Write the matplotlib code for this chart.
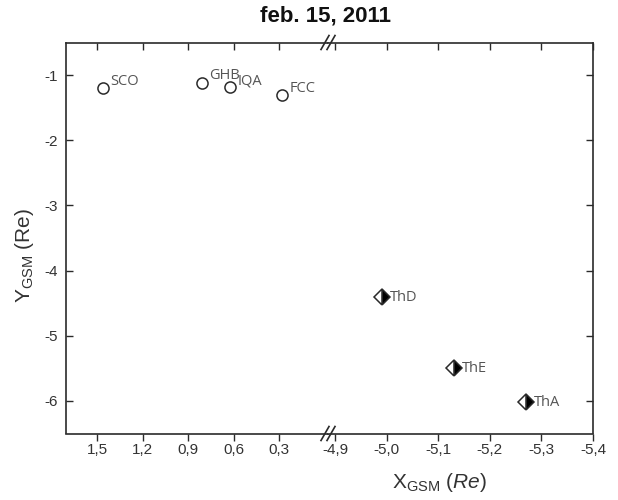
import matplotlib
matplotlib.use("Agg")
import matplotlib.pyplot as plt

plt.rcParams["font.family"] = ["Liberation Sans", "DejaVu Sans"]
plt.rcParams["mathtext.fontset"] = "custom"
plt.rcParams["mathtext.rm"] = "Liberation Sans"
plt.rcParams["mathtext.it"] = "Liberation Sans:italic"

# ground stations (circles)
ground_names = ["SCO", "GHB", "IQA", "FCC"]
ground_x = [1.46, 0.81, 0.625, 0.28]
ground_y = [-1.20, -1.12, -1.19, -1.31]

# THEMIS probes (half filled diamonds)
themis_names = ["ThD", "ThE", "ThA"]
themis_x = [-4.99, -5.13, -5.27]
themis_y = [-4.41, -5.50, -6.02]

left_ticks = [1.5, 1.2, 0.9, 0.6, 0.3]
left_labels = ["1,5", "1,2", "0,9", "0,6", "0,3"]
right_ticks = [-4.9, -5.0, -5.1, -5.2, -5.3, -5.4]
right_labels = ["-4,9", "-5,0", "-5,1", "-5,2", "-5,3", "-5,4"]
y_ticks = [-1, -2, -3, -4, -5, -6]

W, H = 618, 500
fig = plt.figure(figsize=(W / 100, H / 100), dpi=100)
bottom = (H - 433.5) / H
height = 391 / H
brk = 328
ax1 = fig.add_axes([66 / W, bottom, (brk - 66) / W, height])
ax2 = fig.add_axes([brk / W, bottom, (593 - brk) / W, height], sharey=ax1)

ink = "#2a2a2a"
lab = "#555555"

ax1.plot(ground_x, ground_y, "o", ms=8, mfc="white", mec=ink, mew=1.1)
for n, x, y in zip(ground_names, ground_x, ground_y):
    ax1.annotate(n, (x, y), xytext=(5.5, 5), textcoords="offset points",
                 va="center", ha="left", fontsize=10.5, color=lab,
                 family=["Open Sans", "DejaVu Sans"])

ax2.plot(themis_x, themis_y, "D", ms=8.5, fillstyle="right", mfc="black",
         mfcalt="white", mec=ink, mew=1.1)
for n, x, y in zip(themis_names, themis_x, themis_y):
    ax2.annotate(n, (x, y), xytext=(6, 0), textcoords="offset points",
                 va="center", ha="left", fontsize=10.5, color=lab,
                 family=["Open Sans", "DejaVu Sans"])

ax1.set_xlim(1.704, -0.02)
ax2.set_xlim(-4.886, -5.4)
ax1.set_ylim(-6.5, -0.5)

ax1.set_xticks(left_ticks)
ax1.set_xticklabels(left_labels)
ax2.set_xticks(right_ticks)
ax2.set_xticklabels(right_labels)
ax1.set_yticks(y_ticks)
ax1.set_yticklabels([str(v) for v in y_ticks])

for ax in (ax1, ax2):
    for s in ax.spines.values():
        s.set_linewidth(1.2)
        s.set_color(ink)
    ax.tick_params(axis="x", which="major", direction="out", length=5,
                   width=1.0, color=ink, labelsize=11, labelcolor="#333333",
                   pad=2)
    ax.tick_params(axis="x", top=True, labeltop=False)
    ax.tick_params(axis="y", direction="in", length=5, width=1.0,
                   color=ink, labelsize=11, labelcolor="#333333", pad=6)

# top ticks point inwards
for ax in (ax1, ax2):
    for t in ax.xaxis.get_major_ticks():
        t.tick2line.set_marker(3)  # TICKDOWN
ax1.spines["right"].set_visible(False)
ax2.spines["left"].set_visible(False)
ax1.tick_params(axis="y", left=True, right=False)
ax2.tick_params(axis="y", left=False, right=True, labelleft=False)

# break marks
dx, dy = 4 / (593 - brk), 7 / 391
for yy in (0, 1):
    for off in (-3, 3):
        x0 = off / (593 - brk)
        ax2.plot([x0 - dx, x0 + dx], [yy - dy, yy + dy], color=ink, lw=1.2,
                 transform=ax2.transAxes, clip_on=False)

fig.text(325 / W, 1 - 16 / H, "feb. 15, 2011", ha="center", va="center",
         fontsize=16, fontweight="bold", color="#111111")
fig.text(440 / W, 1 - 483 / H, r"X$_\mathrm{GSM}$ ($\mathit{Re}$)",
         ha="center", va="center", fontsize=15, color="#333333")
fig.text(25 / W, 1 - 255 / H, r"Y$_\mathrm{GSM}$ (Re)", ha="center",
         va="center", rotation=90, fontsize=15, color="#333333")

fig.savefig("out.png", dpi=100)
